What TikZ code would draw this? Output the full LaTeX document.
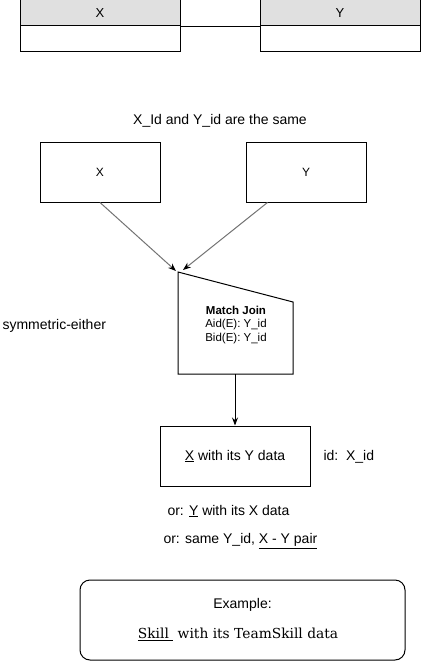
\documentclass[tikz,border=0pt]{standalone}
\usepackage{fontspec}
\setmainfont{Liberation Sans}
\newfontfamily\exfont{DejaVu Serif}
\usetikzlibrary{arrows.meta}
\usetikzlibrary{positioning}
\colorlet{headgray}{black!12}
\colorlet{linkgray}{black!55}

\begin{document}
\begin{tikzpicture}[x=1pt,y=-1pt,line width=1pt,
    every node/.style={inner sep=0pt,font=\fontsize{14}{16}\selectfont},
    tablehead/.style={draw,fill=headgray,minimum width=160,minimum height=26,font=\fontsize{13}{15}\selectfont},
    tablebody/.style={draw,minimum width=160,minimum height=26},
    entity/.style={draw,minimum width=120,minimum height=60,font=\fontsize{12}{14}\selectfont},
    tip/.style={-{Stealth[length=8pt,width=6pt,color=black]}}]
\useasboundingbox (0,0) rectangle (421,661);
% table pair on top
\node[tablehead] (xhead) at (100,13) {X};
\node[tablebody] (xbody) at (100,39) {};
\node[tablehead] (yhead) at (340,13) {Y};
\node[tablebody] (ybody) at (340,39) {};
\draw (xhead.south east) -- (yhead.south west);

\node (same) at (220,121) {X\_Id and Y\_id are the same};
\node[entity] (xbox) at (100,172) {X};
\node[entity] (ybox) at (306,172) {Y};

% match join (manual input shape)
\coordinate (jtl) at (178,272);
\coordinate (jtr) at (293,302);
\coordinate (jbr) at (293,374);
\coordinate (jbl) at (178,374);
\coordinate (jbot) at (235,374);
\draw (jtl) -- (jtr) -- (jbr) -- (jbl) -- cycle;
\node[align=center,font=\fontsize{11.5}{13.5}\selectfont] (join) at (236,325)
    {\textbf{Match Join}\\Aid(E): Y\_id\\Bid(E): Y\_id};
\node[anchor=west] (sym) at (2,326) {symmetric-either};

\draw[linkgray,tip] (xbox.south) -- (176,271);
\draw[linkgray,tip] ([xshift=22pt]ybox.south west) -- (183,270);

% result
\node[draw,minimum width=150,minimum height=60] (res) at (235,456) {\underline{X} with its Y data};
\node[anchor=west] (resid) at (323,457) {id:\ \ X\_id};
\draw[tip] (jbot) -- (res.north);
\node[anchor=west] (or1) at (167,511) {or: \underline{Y} with its X data};
\node[anchor=west] (or2) at (163,541) {or: same Y\_id, \underline{X - Y pair}};

% example
\node[draw,rounded corners=10pt,minimum width=325,minimum height=80] (ex) at (242.5,620) {};
\node (extitle) at (242.5,605) {Example:};
\node[font=\exfont\fontsize{13.8}{16}\selectfont] (exline) at (238,634) {\underline{Skill\ } with its TeamSkill data};
\end{tikzpicture}
\end{document}
